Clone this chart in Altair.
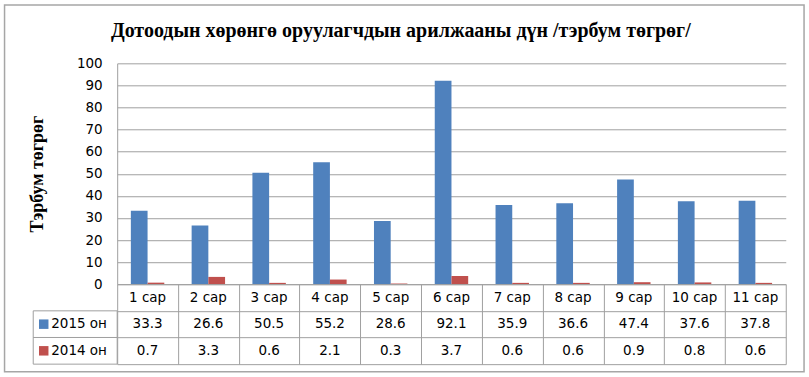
import altair as alt
import pandas as pd

# ---- data ----
months = ["1 сар", "2 сар", "3 сар", "4 сар", "5 сар", "6 сар",
          "7 сар", "8 сар", "9 сар", "10 сар", "11 сар"]
series = ["2015 он", "2014 он"]
vals_2015 = [33.3, 26.6, 50.5, 55.2, 28.6, 92.1, 35.9, 36.6, 47.4, 37.6, 37.8]
vals_2014 = [0.7, 3.3, 0.6, 2.1, 0.3, 3.7, 0.6, 0.6, 0.9, 0.8, 0.6]
colors = ["#4F81BD", "#C0504D"]
title_text = "Дотоодын хөрөнгө оруулагчдын арилжааны дүн /тэрбум  төгрөг/"
y_title = "Тэрбум төгрөг"
y_ticks = [0, 10, 20, 30, 40, 50, 60, 70, 80, 90, 100]

# ---- tables built from the arrays ----
rows = []
for m, a, b in zip(months, vals_2015, vals_2014):
    rows.append({"month": m, "series": series[0], "value": a})
    rows.append({"month": m, "series": series[1], "value": b})
df = pd.DataFrame(rows)

HDR = "hdr"
row_domain = [HDR] + series
cells = [{"month": m, "row": HDR, "label": m} for m in months]
for r in rows:
    cells.append({"month": r["month"], "row": r["series"], "label": f"{r['value']:.1f}"})
cells_df = pd.DataFrame(cells)
legend_df = pd.DataFrame({"row": series, "series": series})

W = 669
H_PLOT = 221
H_TABLE = 80
GRID = "#a0a0a0"
NUM_FONT = "DejaVu Sans"
NUM_SIZE = 13.5
SERIF = "Liberation Serif"

color_scale = alt.Scale(domain=series, range=colors)

bars = alt.Chart(df).mark_bar().encode(
    x=alt.X("month:N", sort=months,
            scale=alt.Scale(paddingInner=0.45, paddingOuter=0.225), axis=None),
    xOffset=alt.XOffset("series:N", sort=series,
                        scale=alt.Scale(domain=series, paddingInner=0, paddingOuter=0)),
    y=alt.Y("value:Q", scale=alt.Scale(domain=[0, 100], nice=False),
            axis=alt.Axis(values=y_ticks, title=y_title, grid=True, gridColor=GRID,
                          ticks=False, domain=True, domainColor=GRID,
                          labelFont=NUM_FONT, labelFontSize=NUM_SIZE, labelColor="#000",
                          labelPadding=15, titleFont=SERIF, titleFontSize=18,
                          titleFontWeight="bold", titleColor="#000", titlePadding=30)),
    color=alt.Color("series:N", scale=color_scale, legend=None),
)

frame = alt.Chart(pd.DataFrame({"k": [0]})).mark_rect(
    fillOpacity=0, stroke="#a6a6a6", strokeWidth=1.5
).encode(
    x=alt.value(-112.7), x2=alt.value(687.3),
    y=alt.value(-58.3), y2=alt.value(308.7),
)

title = alt.Chart(pd.DataFrame({"t": [title_text]})).mark_text(
    font=SERIF, fontSize=20, fontWeight="bold", color="#000",
    align="center", baseline="middle"
).encode(x=alt.value(283.8), y=alt.value(-32), text="t:N")

top = alt.layer(frame, bars, title).properties(width=W, height=H_PLOT)

# ---- data table ----
tbl_x = alt.X("month:N", sort=months, scale=alt.Scale(domain=months, paddingInner=0, paddingOuter=0),
              axis=alt.Axis(grid=True, tickBand="extent", gridColor=GRID, labels=False,
                            ticks=False, domain=False, title=None))
tbl_y = alt.Y("row:N", sort=row_domain,
              scale=alt.Scale(domain=row_domain, paddingInner=0, paddingOuter=0),
              axis=alt.Axis(grid=True, tickBand="extent", gridColor=GRID, labels=False,
                            ticks=False, domain=False, title=None))

cell_text = alt.Chart(cells_df).mark_text(
    font=NUM_FONT, fontSize=NUM_SIZE, color="#000", align="center", baseline="middle"
).encode(x=tbl_x, y=tbl_y, text="label:N")

legend_cells = alt.Chart(legend_df).mark_rect(
    fillOpacity=0, stroke=GRID, strokeWidth=1
).encode(x=alt.value(-84), x2=alt.value(0), y=tbl_y)

legend_sq = alt.Chart(legend_df).mark_point(
    shape="square", filled=True, size=90, opacity=1
).encode(x=alt.value(-73.5), y=tbl_y,
         color=alt.Color("series:N", scale=color_scale, legend=None))

legend_txt = alt.Chart(legend_df).mark_text(
    font=NUM_FONT, fontSize=NUM_SIZE, color="#000", align="left", baseline="middle"
).encode(x=alt.value(-66), y=tbl_y, text="row:N")

table = alt.layer(cell_text, legend_cells, legend_sq, legend_txt).properties(
    width=W, height=H_TABLE)

chart = alt.vconcat(top, table, spacing=0, bounds="flush").properties(
    padding=3.25, background="white"
).configure_view(strokeWidth=0)

chart.save("out.html", embed_options={"renderer": "svg", "actions": False})
